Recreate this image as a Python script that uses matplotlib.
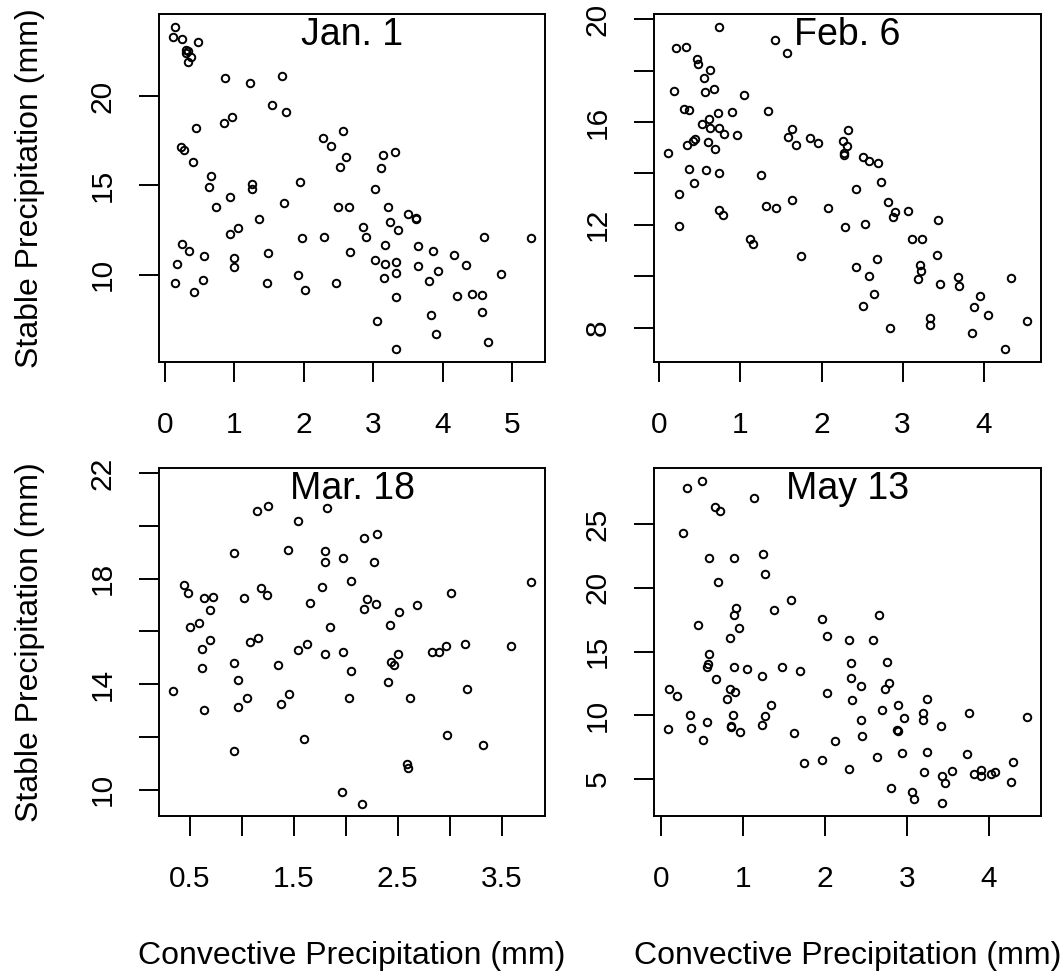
import matplotlib
matplotlib.use("Agg")
import matplotlib.pyplot as plt

plt.rcParams['font.family'] = ['Liberation Sans', 'DejaVu Sans']

# --- data (convective, stable) ---
jan_x = [0.15, 0.12, 0.24, 0.48, 0.31, 0.33, 0.30, 0.37, 0.33, 0.86, 1.22, 1.68, 1.54, 1.74, 0.97,
         0.85, 0.45, 2.28, 2.56, 2.39, 2.61, 2.52, 0.23, 0.28, 0.40, 0.67, 0.64, 1.26, 1.26, 1.94,
         0.94, 0.73, 1.72, 2.50, 2.65, 1.36, 1.05, 0.93, 1.98, 2.29, 0.25, 0.35, 0.56, 1.48, 2.67,
         0.18, 0.99, 0.99, 0.15, 0.55, 0.42, 1.47, 1.92, 2.02, 2.47,
         3.14, 3.32, 3.11, 3.02, 3.22, 3.24, 3.50, 3.61, 3.62, 2.86, 2.89, 3.36, 3.17, 3.64, 3.86,
         4.60, 5.27, 3.02, 3.17, 3.33, 3.33, 3.16, 3.64, 3.93, 3.81, 4.16, 4.34, 4.84, 3.33, 4.21,
         4.43, 4.57, 3.06, 3.83, 4.57, 3.90, 4.66, 3.33]
jan_y = [23.87, 23.28, 23.22, 23.03, 22.57, 22.5, 22.42, 22.2, 21.88, 20.99, 20.74, 21.13, 19.51, 19.12, 18.81,
         18.47, 18.19, 17.67, 18.06, 17.21, 16.61, 16.02, 17.13, 17.0, 16.33, 15.53, 14.93, 15.08, 14.79, 15.21,
         14.34, 13.82, 14.0, 13.82, 13.82, 13.13, 12.61, 12.27, 12.07, 12.1, 11.71, 11.36, 11.06, 11.25, 11.27,
         10.6, 10.93, 10.43, 9.57, 9.72, 9.07, 9.53, 10.0, 9.14, 9.57,
         16.70, 16.89, 16.0, 14.8, 13.82, 12.96, 13.41, 13.17, 13.1, 12.66, 12.14, 12.51, 11.69, 11.64, 11.36,
         12.14, 12.05, 10.84, 10.61, 10.73, 10.11, 9.81, 10.47, 10.2, 9.66, 11.12, 10.54, 10.06, 8.79, 8.8,
         8.96, 8.9, 7.43, 7.73, 7.9, 6.69, 6.22, 5.85]

feb_x = [0.73, 0.20, 0.33, 1.43, 1.57, 0.46, 0.47, 0.63, 0.55, 0.18, 0.56, 0.67, 1.04, 0.30, 0.36,
         0.72, 0.90, 1.34, 0.61, 0.53, 0.63, 0.74, 0.80, 0.96, 0.44, 0.41, 0.34, 0.60, 0.69, 0.11,
         1.63, 1.59, 1.69, 1.86, 1.96, 0.37, 0.57, 0.74, 0.43, 1.25, 0.24, 0.73, 0.79, 1.31, 1.44,
         1.64, 2.08, 0.24, 2.29, 1.12, 1.16, 1.75,
         2.32, 2.27, 2.31, 2.28, 2.28, 2.51, 2.59, 2.70, 2.73, 2.42, 2.82, 2.91, 2.88, 3.07, 3.44,
         2.53, 3.11, 3.24, 3.43, 2.43, 2.68, 2.59, 3.22, 3.23, 3.19, 3.46, 3.68, 3.70, 4.34, 2.65,
         2.51, 3.96, 3.88, 4.05, 2.85, 3.34, 3.34, 3.86, 4.53, 4.26]
feb_y = [19.71, 18.87, 18.93, 19.21, 18.68, 18.47, 18.26, 18.05, 17.70, 17.22, 17.18, 17.31, 17.05, 16.51, 16.47,
         16.37, 16.38, 16.44, 16.11, 15.93, 15.76, 15.79, 15.53, 15.5, 15.33, 15.25, 15.11, 15.24, 14.95, 14.79,
         15.73, 15.42, 15.10, 15.40, 15.19, 14.19, 14.14, 14.03, 13.62, 13.93, 13.20, 12.58, 12.39, 12.74, 12.64,
         12.97, 12.67, 11.97, 11.92, 11.44, 11.24, 10.79,
         15.69, 15.26, 15.07, 14.79, 14.71, 14.64, 14.50, 14.42, 13.67, 13.40, 12.90, 12.49, 12.30, 12.54, 12.19,
         12.05, 11.44, 11.44, 10.83, 10.37, 10.67, 10.02, 10.44, 10.21, 9.91, 9.70, 9.98, 9.60, 9.92, 9.30,
         8.82, 9.23, 8.79, 8.49, 8.0, 8.37, 8.1, 7.78, 8.26, 7.16]

mar_x = [0.34, 0.44, 0.48, 0.50, 0.59, 0.64, 0.72, 0.69, 0.69, 0.62, 0.62, 0.64, 0.92, 0.92, 0.96,
         0.96, 1.05, 0.92, 1.02, 1.15, 1.25, 1.18, 1.24, 1.08, 1.16, 1.35, 1.38, 1.45, 1.54, 1.44,
         1.66, 1.54, 1.63, 1.60, 1.82, 1.80, 1.80, 1.77, 1.85, 1.80, 1.97, 1.97, 1.96,
         2.18, 2.30, 2.27, 2.05, 3.78, 3.01, 2.20, 2.18, 2.29, 2.69, 2.51, 2.43, 2.05, 2.03, 2.50,
         2.44, 2.46, 2.41, 2.83, 2.90, 2.96, 3.15, 3.59, 3.17, 2.62, 2.97, 3.32, 2.59, 2.60, 2.16]
mar_y = [13.75, 17.76, 17.46, 16.15, 16.32, 17.28, 17.32, 16.81, 15.69, 15.34, 14.61, 13.03, 18.97, 14.80, 14.15,
         13.14, 13.46, 11.46, 17.25, 20.56, 20.75, 17.63, 17.38, 15.6, 15.75, 14.71, 13.23, 13.61, 20.2, 19.1,
         17.09, 15.28, 15.53, 11.91, 20.69, 19.06, 18.65, 17.67, 16.15, 15.15, 18.79, 15.22, 9.90,
         19.54, 19.69, 18.65, 17.93, 17.89, 17.47, 17.23, 16.84, 17.03, 16.99, 16.74, 16.23, 14.49, 13.47, 15.15,
         14.86, 14.71, 14.07, 15.22, 15.22, 15.45, 15.51, 15.45, 13.82, 13.49, 12.06, 11.68, 10.99, 10.83, 9.47]

may_x = [0.32, 0.50, 0.66, 0.72, 1.13, 0.27, 0.59, 0.89, 1.25, 1.27, 0.69, 0.91, 0.89, 0.95, 0.84,
         0.45, 1.38, 1.59, 1.96, 2.02, 0.58, 0.57, 0.56, 0.89, 1.05, 1.23, 1.48, 1.70, 0.67, 0.10,
         0.19, 0.84, 0.90, 0.80, 2.03, 1.34, 0.36, 0.88, 1.27, 1.23, 0.86, 0.86, 0.96, 0.56, 0.37,
         0.09, 0.51, 1.62, 2.12, 1.75, 1.97,
         2.66, 2.29, 2.59, 2.32, 2.76, 2.32, 2.44, 2.78, 2.73, 2.33, 3.24, 2.70, 2.89, 2.97, 3.19,
         3.20, 2.44, 2.88, 2.89, 2.45, 3.41, 3.76, 4.46, 2.64, 2.94, 3.25, 3.73, 2.29, 3.21, 3.55,
         3.43, 3.46, 3.82, 3.90, 3.90, 4.02, 4.07, 4.29, 4.27, 2.81, 3.06, 3.09, 3.43]
may_y = [27.85, 28.37, 26.34, 26.02, 27.01, 24.25, 22.35, 22.32, 22.68, 21.04, 20.47, 18.43, 17.86, 16.82, 16.06,
         17.07, 18.25, 19.01, 17.52, 16.21, 14.83, 14.0, 13.8, 13.79, 13.61, 13.11, 13.79, 13.48, 12.85, 12.1,
         11.49, 12.05, 11.81, 11.31, 11.73, 10.82, 10.06, 10.0, 9.95, 9.28, 9.17, 9.05, 8.73, 9.51, 8.99,
         8.96, 8.05, 8.6, 7.95, 6.28, 6.51,
         17.86, 15.88, 15.88, 14.08, 14.2, 12.9, 12.3, 12.51, 12.05, 11.18, 11.26, 10.4, 10.82, 9.77, 10.22,
         9.62, 9.67, 8.86, 8.8, 8.39, 9.17, 10.16, 9.88, 6.75, 7.03, 7.14, 6.98, 5.78, 5.52, 5.6,
         5.21, 4.69, 5.41, 5.7, 5.26, 5.39, 5.52, 6.35, 4.74, 4.27, 3.96, 3.44, 3.12]

titles = ['Jan. 1', 'Feb. 6', 'Mar. 18', 'May 13']

# tick positions and which ones get a label
jan_xt, jan_xl = [0, 1, 2, 3, 4, 5], ['0', '1', '2', '3', '4', '5']
jan_yt, jan_yl = [10, 15, 20], ['10', '15', '20']
feb_xt, feb_xl = [0, 1, 2, 3, 4], ['0', '1', '2', '3', '4']
feb_yt, feb_yl = [8, 10, 12, 14, 16, 18, 20], ['8', '', '12', '', '16', '', '20']
mar_xt, mar_xl = [0.5, 1.0, 1.5, 2.0, 2.5, 3.0, 3.5], ['0.5', '', '1.5', '', '2.5', '', '3.5']
mar_yt, mar_yl = [10, 12, 14, 16, 18, 20, 22], ['10', '', '14', '', '18', '', '22']
may_xt, may_xl = [0, 1, 2, 3, 4], ['0', '1', '2', '3', '4']
may_yt, may_yl = [5, 10, 15, 20, 25], ['5', '10', '15', '20', '25']

W, H = 1064, 972
fig = plt.figure(figsize=(W / 100, H / 100), dpi=100)

# plot boxes in pixels: left, top, right, bottom
boxes = [(159, 14, 545, 362), (654, 14, 1041, 362),
         (159, 468, 545, 816), (654, 468, 1041, 816)]

panels = [
    (jan_x, jan_y, jan_xt, jan_xl, jan_yt, jan_yl, None),
    (feb_x, feb_y, feb_xt, feb_xl, feb_yt, feb_yl, None),
    (mar_x, mar_y, mar_xt, mar_xl, mar_yt, mar_yl, (9.0, 22.2)),
    (may_x, may_y, may_xt, may_xl, may_yt, may_yl, None),
]


def r_range(v):
    # R style 4% padding
    lo, hi = min(v), max(v)
    pad = 0.04 * (hi - lo)
    return lo - pad, hi + pad


for (l, t, r, b), (xs, ys, xt, xl, yt, yl, ylim), title in zip(boxes, panels, titles):
    ax = fig.add_axes([l / W, 1 - b / H, (r - l) / W, (b - t) / H])
    ax.plot(xs, ys, linestyle='none', marker='o', markersize=5.4,
            markerfacecolor='none', markeredgecolor='black', markeredgewidth=1.4)
    ax.set_xticks(xt, xl)
    ax.set_yticks(yt, yl)
    ax.set_xlim(r_range(xs))
    ax.set_ylim(ylim if ylim else r_range(ys))
    for s in ax.spines.values():
        s.set_linewidth(1.4)
    ax.tick_params(direction='out', length=14.4, width=1.4, labelsize=21.5)
    ax.tick_params(axis='x', pad=21)
    ax.tick_params(axis='y', pad=16, labelrotation=90)
    for lab in ax.get_yticklabels():
        lab.set_va('center')
    ax.text(0.5, 0.911, title, transform=ax.transAxes, ha='center',
            va='baseline', fontsize=27)

# axis titles
for yc in [188, 642]:
    fig.text(38 / W, 1 - yc / H, 'Stable Precipitation (mm)', rotation=90,
             rotation_mode='anchor', ha='center', va='baseline', fontsize=23)
for xc in [352, 847.5]:
    fig.text(xc / W, 1 - 964 / H, 'Convective Precipitation (mm)',
             ha='center', va='baseline', fontsize=23)

fig.savefig('out.png', dpi=100)
